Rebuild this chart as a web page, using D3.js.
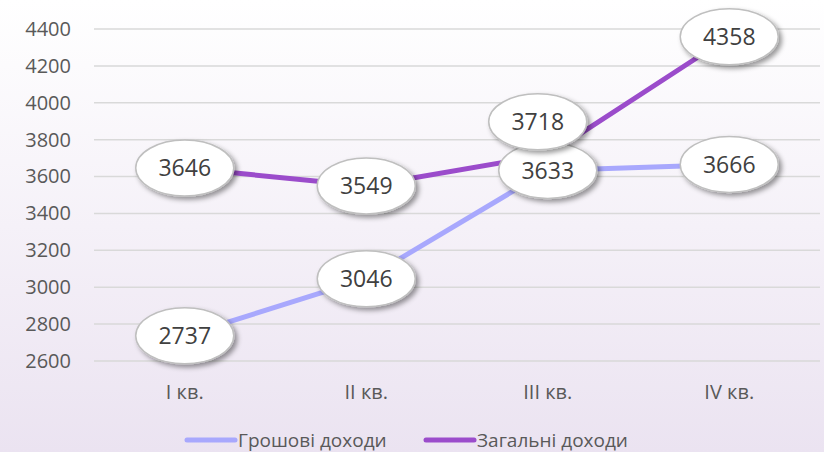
<!DOCTYPE html>
<html>
<head>
    <meta charset="utf-8" />
    <title>Доходи</title>
    <script src="https://cdn.jsdelivr.net/npm/d3@7/dist/d3.min.js" charset="utf-8"></script>
    <style>
        html, body { margin: 0; padding: 0; }
        svg { display: block; font-family: "Open Sans", sans-serif; }
    </style>
</head>
<body>
</body>
<script charset="utf-8">

    var width = 824;
    var height = 452;

    var quarters = ['I кв.', 'II кв.', 'III кв.', 'IV кв.'];
    var cashIncome = [2737, 3046, 3633, 3666];   // Грошові доходи
    var totalIncome = [3646, 3549, 3718, 4358];  // Загальні доходи
    var seriesNames = ['Грошові доходи', 'Загальні доходи'];
    var yTicks = [2600, 2800, 3000, 3200, 3400, 3600, 3800, 4000, 4200, 4400];

    var colors = ['#a8a8fd', '#9b4ccb'];
    var series = [cashIncome, totalIncome];

    var svg = d3.select('body').append('svg').attr('width', width).attr('height', height);
    var defs = svg.append('defs');

    var bg = defs.append('linearGradient').attr('id', 'bg').attr('x1', 0).attr('y1', 0).attr('x2', 0).attr('y2', 1);
    bg.append('stop').attr('offset', '0%').attr('stop-color', '#ffffff');
    bg.append('stop').attr('offset', '100%').attr('stop-color', '#ebe3f1');

    var shadow = defs.append('filter').attr('id', 'shadow').attr('x', '-30%').attr('y', '-30%').attr('width', '160%').attr('height', '170%');
    shadow.append('feDropShadow').attr('dx', 3).attr('dy', 3).attr('stdDeviation', 2.5)
        .attr('flood-color', '#000').attr('flood-opacity', 0.4);

    svg.append('rect').attr('width', width).attr('height', height).attr('fill', 'url(#bg)');

    var margin = {left: 94, right: 4, top: 29, bottom: 91};

    var x = d3.scaleBand().domain(quarters).range([margin.left, width - margin.right]);
    var y = d3.scaleLinear().domain([2600, 4400]).range([height - margin.bottom, margin.top]);

    // сітка
    svg.append('g').selectAll('line').data(yTicks).enter().append('line')
        .attr('x1', margin.left).attr('x2', width - margin.right)
        .attr('y1', function(d){ return y(d); }).attr('y2', function(d){ return y(d); })
        .attr('stroke', '#d9d9d9').attr('stroke-width', 1.5);

    // вісь Y
    var yAxis = svg.append('g').attr('transform', 'translate(' + (margin.left - 23) + ',0)')
        .call(d3.axisLeft(y).tickValues(yTicks).tickFormat(d3.format('d')).tickSize(0).tickPadding(0));
    yAxis.select('.domain').remove();
    yAxis.selectAll('text').attr('font-size', 20).attr('fill', '#595959').attr('font-family', '"Open Sans", sans-serif');

    // вісь X
    var xAxis = svg.append('g').attr('transform', 'translate(0,' + (height - margin.bottom + 23) + ')')
        .call(d3.axisBottom(x).tickSize(0).tickPadding(0));
    xAxis.select('.domain').remove();
    xAxis.selectAll('text').attr('font-size', 20).attr('fill', '#595959').attr('font-family', '"Open Sans", sans-serif')
        .attr('dy', '0.75em');

    var line = d3.line()
        .x(function(d, i){ return x(quarters[i]) + x.bandwidth() / 2; })
        .y(function(d){ return y(d); });

    svg.append('g').selectAll('path').data(series).enter().append('path')
        .attr('d', line).attr('fill', 'none')
        .attr('stroke', function(d, i){ return colors[i]; })
        .attr('stroke-width', 5).attr('stroke-linejoin', 'round');

    // підписи даних
    var labels = [];
    series.forEach(function(s, si){
        s.forEach(function(v, i){
            var lx = x(quarters[i]) + x.bandwidth() / 2;
            var ly = y(v);
            if (si === 1 && i === 2) { lx -= 10; ly -= 33; } // підпис зсунуто вручну
            labels.push({v: v, x: lx, y: ly});
        });
    });

    var gLabels = svg.append('g').selectAll('g').data(labels).enter().append('g')
        .attr('transform', function(d){ return 'translate(' + d.x + ',' + d.y + ')'; });
    gLabels.append('ellipse').attr('rx', 49).attr('ry', 28)
        .attr('fill', '#ffffff').attr('stroke', '#bfbfbf').attr('stroke-width', 1.5)
        .attr('filter', 'url(#shadow)');
    gLabels.append('text').attr('text-anchor', 'middle').attr('dy', '0.36em')
        .attr('font-size', 23).attr('fill', '#404040')
        .text(function(d){ return d.v; });

    // легенда
    var legendX = [187, 426];
    var legend = svg.append('g').selectAll('g').data(seriesNames).enter().append('g')
        .attr('transform', function(d, i){ return 'translate(' + legendX[i] + ',' + 440 + ')'; });
    legend.append('line').attr('x1', 0).attr('x2', 48)
        .attr('stroke', function(d, i){ return colors[i]; }).attr('stroke-width', 5).attr('stroke-linecap', 'round');
    legend.append('text').attr('x', 51).attr('dy', '0.36em')
        .attr('font-size', 19).attr('fill', '#595959')
        .text(function(d){ return d; });

</script>
</html>
